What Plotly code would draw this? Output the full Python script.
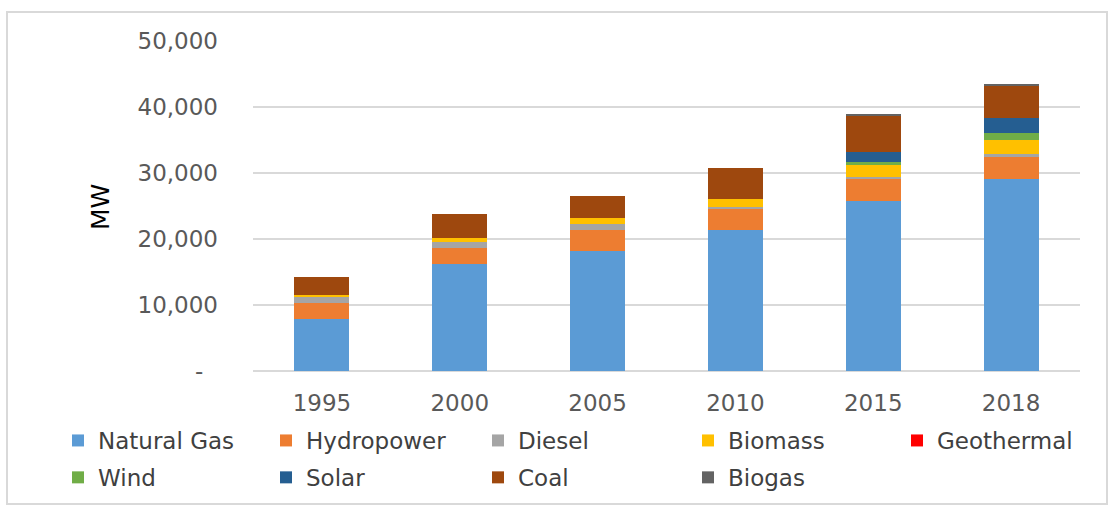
import plotly.graph_objects as go

years = ["1995", "2000", "2005", "2010", "2015", "2018"]

natural_gas = [7900, 16200, 18200, 21300, 25700, 29100]
hydropower = [2330, 2420, 3200, 3200, 3400, 3400]
diesel = [1000, 1000, 800, 400, 250, 400]
biomass = [360, 550, 960, 1150, 1900, 2100]
geothermal = [0, 0, 0.3, 0.3, 0.3, 0.3]
wind = [0, 0, 0, 0, 400, 1100]
solar = [0, 0, 0, 0, 1600, 2300]
coal = [2670, 3600, 3300, 4750, 5450, 4800]
biogas = [0, 0, 0, 0, 100, 150]

series_names = ["Natural Gas", "Hydropower", "Diesel", "Biomass", "Geothermal",
                "Wind", "Solar", "Coal", "Biogas"]
series_values = [natural_gas, hydropower, diesel, biomass, geothermal,
                 wind, solar, coal, biogas]
series_colors = ["#5b9bd5", "#ed7d31", "#a5a5a5", "#ffc000", "#ff0000",
                 "#70ad47", "#255e91", "#9e480e", "#636363"]
# legend column for each series (two rows of five columns, as in the reference)
legend_ids = ["legend", "legend2", "legend3", "legend4", "legend5",
              "legend", "legend2", "legend3", "legend4"]

y_tickvals = [0, 10000, 20000, 30000, 40000, 50000]
y_ticktext = ["-\u00a0\u00a0", "10,000", "20,000", "30,000", "40,000", "50,000"]
y_title = "MW"

FONT = "DejaVu Sans"

fig = go.Figure()
for name, vals, col, lg in zip(series_names, series_values, series_colors, legend_ids):
    fig.add_trace(go.Bar(
        x=years, y=vals, name=name,
        marker=dict(color=col, line=dict(width=0)),
        legend=lg, legendgroup=name,
    ))

W, H = 1115, 506
L, R, T, B = 253, 35, 41, 135
pw = W - L - R
ph = H - T - B


def legend_at(px):
    return dict(
        orientation="v",
        xref="container", yref="container",
        x=px / W, y=1 - 419 / H,
        xanchor="left", yanchor="top",
        font=dict(family=FONT, size=23, color="#404040"),
        traceorder="grouped",
        tracegroupgap=4,
        bgcolor="rgba(0,0,0,0)",
        itemclick=False,
        itemdoubleclick=False,
    )


legend_cols = [58, 266, 478, 688, 897]

fig.update_layout(
    width=W, height=H,
    barmode="stack",
    bargap=0.6,
    plot_bgcolor="white",
    paper_bgcolor="white",
    margin=dict(l=L, r=R, t=T, b=B, autoexpand=False),
    font=dict(family=FONT, size=23, color="#595959"),
    showlegend=True,
    legend=legend_at(legend_cols[0]),
    legend2=legend_at(legend_cols[1]),
    legend3=legend_at(legend_cols[2]),
    legend4=legend_at(legend_cols[3]),
    legend5=legend_at(legend_cols[4]),
    xaxis=dict(
        type="category",
        showgrid=False,
        showline=False,
        ticks="",
        tickfont=dict(family=FONT, size=23, color="#595959"),
        ticklabelstandoff=16,
    ),
    yaxis=dict(
        range=[0, 50000],
        tickvals=y_tickvals,
        ticktext=y_ticktext,
        showgrid=True,
        gridcolor="#d9d9d9",
        gridwidth=2,
        zeroline=True,
        zerolinecolor="#d9d9d9",
        zerolinewidth=2,
        showline=False,
        ticks="",
        tickfont=dict(family=FONT, size=23, color="#595959"),
        ticklabelstandoff=34,
    ),
)

# y-axis title as rotated text
fig.add_annotation(
    text=y_title, xref="paper", yref="paper",
    x=(100 - L) / pw, y=(H - B - 207) / ph,
    xanchor="center", yanchor="middle",
    textangle=-90, showarrow=False,
    font=dict(family=FONT, size=25, color="#000000"),
)

# outer chart border
fig.add_shape(
    type="rect", xref="paper", yref="paper",
    x0=(7 - L) / pw, x1=(1107 - L) / pw,
    y0=(H - B - 504) / ph, y1=(H - B - 12) / ph,
    line=dict(color="#d9d9d9", width=2),
    fillcolor="rgba(0,0,0,0)",
    layer="below",
)

fig.write_html(
    "out.html",
    config={"displayModeBar": False},
    post_script="document.body.style.margin='0';document.body.style.overflow='hidden';",
)
